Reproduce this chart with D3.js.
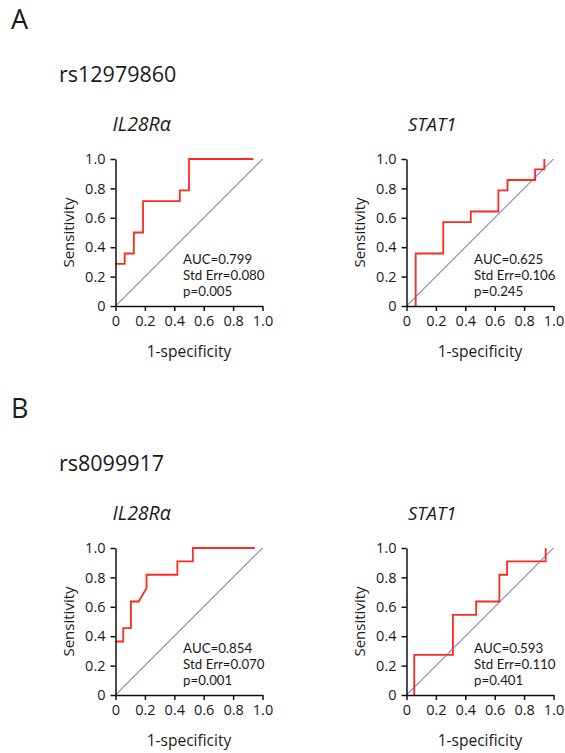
<!DOCTYPE html>
<html>
<head>
<meta charset="utf-8">
<script src="https://cdn.jsdelivr.net/npm/d3@7"></script>
<style>
  body { margin: 0; background: #fff; }
  svg { display: block; font-family: "Open Sans", "Noto Sans", sans-serif; }
</style>
</head>
<body>
<svg id="roc" width="565" height="753"></svg>
<script>
// figure labels
var panelLetters = ['A', 'B'];
var snps = ['rs12979860', 'rs8099917'];
var genes = ['IL28R\u03b1', 'STAT1'];

// ROC curves, [1-specificity, sensitivity]
var rocA_il28 = [[0, 0.286], [0.0625, 0.286], [0.0625, 0.357], [0.125, 0.357], [0.125, 0.5],
    [0.1875, 0.5], [0.1875, 0.714], [0.4375, 0.714], [0.4375, 0.786], [0.5, 0.786], [0.5, 1], [0.9375, 1]];
var rocA_stat1 = [[0.0625, 0], [0.0625, 0.357], [0.25, 0.357], [0.25, 0.571], [0.4375, 0.571],
    [0.4375, 0.643], [0.625, 0.643], [0.625, 0.786], [0.6875, 0.786], [0.6875, 0.857], [0.875, 0.857],
    [0.875, 0.929], [0.9375, 0.929], [0.9375, 1]];
var rocB_il28 = [[0, 0.364], [0.0526, 0.364], [0.0526, 0.455], [0.105, 0.455], [0.105, 0.636],
    [0.158, 0.636], [0.211, 0.727], [0.211, 0.818], [0.421, 0.818], [0.421, 0.909], [0.526, 0.909],
    [0.526, 1], [0.947, 1]];
var rocB_stat1 = [[0.0526, 0], [0.0526, 0.273], [0.316, 0.273], [0.316, 0.545], [0.474, 0.545],
    [0.474, 0.636], [0.632, 0.636], [0.632, 0.818], [0.684, 0.818], [0.684, 0.909], [0.947, 0.909], [0.947, 1]];

var aucValues = ['0.799', '0.625', '0.854', '0.593'];
var stdErrValues = ['0.080', '0.106', '0.070', '0.110'];
var pValues = ['0.005', '0.245', '0.001', '0.401'];
var tickValues = [0, 0.2, 0.4, 0.6, 0.8, 1.0];

(function(){
    var svg = d3.select('#roc'),
        plotSize = 147,
        colLeft = [115.5, 406.5],
        rowTop = [159, 548],
        geneOffset = [-3, 1.5],
        textColor = '#1a1a1a';

    var curves = [rocA_il28, rocA_stat1, rocB_il28, rocB_stat1];

    // row headers
    panelLetters.forEach(function(letter, r) {
        var top = rowTop[r];
        svg.append('text')
            .attr('x', 11)
            .attr('y', top - 130)
            .attr('font-size', '27px')
            .attr('fill', textColor)
            .text(letter);
        svg.append('text')
            .attr('x', 59)
            .attr('y', top - 77)
            .attr('font-size', '21.5px')
            .attr('fill', textColor)
            .text(snps[r]);
    });

    var x = d3.scaleLinear().domain([0, 1]).range([0, plotSize]);
    var y = d3.scaleLinear().domain([0, 1]).range([plotSize, 0]);
    var fmt = function(d) { return d === 0 ? '0' : d.toFixed(1); };

    var line = d3.line()
        .x(function(d) { return x(d[0]); })
        .y(function(d) { return y(d[1]); });

    curves.forEach(function(curve, i) {
        var r = Math.floor(i / 2), c = i % 2;
        var g = svg.append('g')
            .attr('transform', 'translate(' + colLeft[c] + ',' + rowTop[r] + ')');

        g.append('text')
            .attr('x', geneOffset[c])
            .attr('y', -28)
            .attr('font-size', c === 0 ? '19.5px' : '18.5px')
            .attr('font-style', 'italic')
            .attr('fill', textColor)
            .text(genes[c]);

        // reference diagonal
        g.append('path')
            .datum([[0, 0], [1, 1]])
            .attr('d', line)
            .attr('fill', 'none')
            .attr('stroke', '#4848b0')
            .attr('stroke-width', 1);

        g.append('path')
            .datum(curve)
            .attr('d', line)
            .attr('fill', 'none')
            .attr('stroke', '#ff2a1f')
            .attr('stroke-width', 1.8);

        var yAxis = g.append('g')
            .call(d3.axisLeft(y).tickValues(tickValues).tickFormat(fmt)
                .tickSize(5).tickSizeOuter(0).tickPadding(5));
        var xAxis = g.append('g')
            .attr('transform', 'translate(0,' + plotSize + ')')
            .call(d3.axisBottom(x).tickValues(tickValues).tickFormat(fmt)
                .tickSize(5).tickSizeOuter(0).tickPadding(5));

        [yAxis, xAxis].forEach(function(a) {
            a.selectAll('path, line').attr('stroke', '#111').attr('stroke-width', 1.5);
            a.selectAll('text')
                .attr('font-family', '"Open Sans", sans-serif')
                .attr('font-size', '14.5px')
                .attr('fill', textColor);
        });

        g.append('text')
            .attr('x', plotSize / 2)
            .attr('y', plotSize + 51)
            .attr('text-anchor', 'middle')
            .attr('font-size', '15.5px')
            .attr('fill', textColor)
            .text('1-specificity');

        g.append('text')
            .attr('transform', 'translate(-42,' + (plotSize / 2) + ') rotate(-90)')
            .attr('text-anchor', 'middle')
            .attr('font-size', '15px')
            .attr('fill', textColor)
            .text('Sensitivity');

        // stats block, Lato keeps the three lines from touching at 16px spacing
        var stats = ['AUC=' + aucValues[i], 'Std Err=' + stdErrValues[i], 'p=' + pValues[i]];
        g.append('g')
            .selectAll('text')
            .data(stats)
            .enter().append('text')
            .attr('x', x(0.46))
            .attr('y', function(d, k) { return plotSize - 42.5 + k * 16; })
            .attr('font-family', 'Lato, "Open Sans", sans-serif')
            .attr('font-size', '13.3px')
            .attr('fill', textColor)
            .text(function(d) { return d; });
    });
})();
</script>
</body>
</html>
